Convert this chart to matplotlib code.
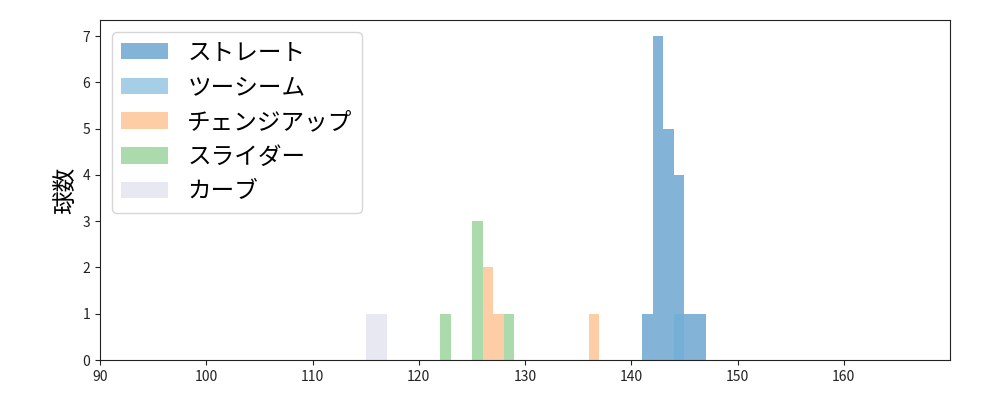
import numpy as np
import matplotlib
matplotlib.use("Agg")
import matplotlib.pyplot as plt

plt.rcParams['font.family'] = ['Noto Sans CJK JP', 'DejaVu Sans']

# pitch speed histograms (bin start km/h -> count), bins of width 1
pitch_types = ['ストレート', 'ツーシーム', 'チェンジアップ', 'スライダー', 'カーブ']
straight_bins = [141, 142, 143, 144, 145, 146]
straight_counts = [1, 7, 5, 4, 1, 1]
twoseam_bins = [144]
twoseam_counts = [1]
changeup_bins = [126, 127, 136]
changeup_counts = [2, 1, 1]
slider_bins = [122, 125, 128]
slider_counts = [1, 3, 1]
curve_bins = [115, 116]
curve_counts = [1, 1]

tab = plt.get_cmap('tab20c').colors
colors = [tab[0], tab[1], tab[6], tab[9], tab[15]]

series = [
    (straight_bins, straight_counts),
    (twoseam_bins, twoseam_counts),
    (changeup_bins, changeup_counts),
    (slider_bins, slider_counts),
    (curve_bins, curve_counts),
]

fig, ax = plt.subplots(figsize=(10, 4), dpi=100)
for name, (b, c), col in zip(pitch_types, series, colors):
    ax.bar(b, c, width=1, align='edge', color=col, alpha=0.6, label=name)

ax.set_xlim(90, 170)
ax.set_ylim(0, 7.35)
ax.set_xticks(range(90, 170, 10))
ax.set_yticks(range(0, 8))
ax.set_ylabel('球数', fontsize=17)
for s in ax.spines.values():
    s.set_color('#222222')
ax.tick_params(colors='#222222')
ax.legend(loc='upper left', fontsize=17)
plt.subplots_adjust(left=0.1, right=0.95, top=0.95, bottom=0.1)
plt.savefig('out.png')
